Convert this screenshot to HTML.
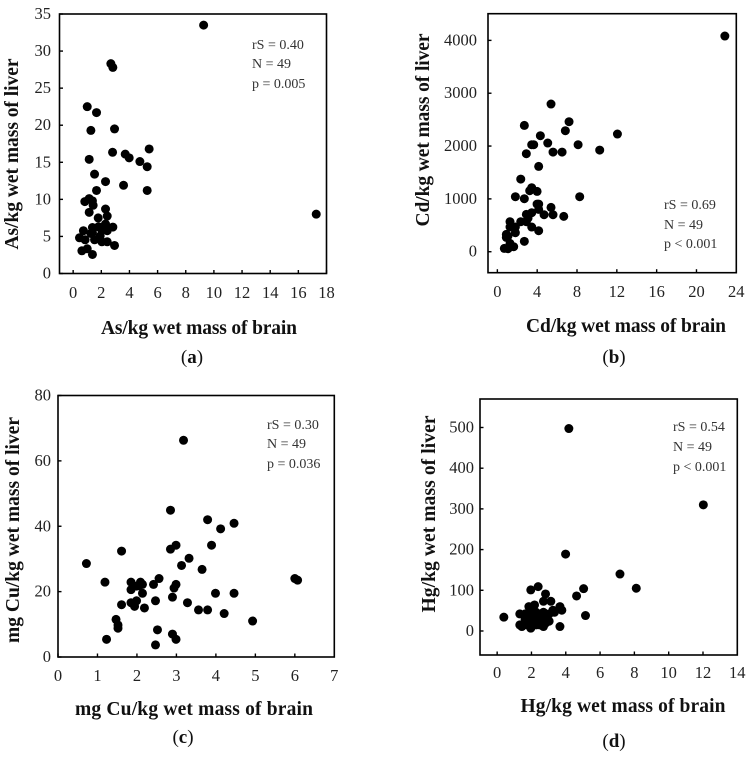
<!DOCTYPE html>
<html lang="en">
<head>
<meta charset="utf-8">
<title>Liver versus brain metal concentrations</title>
<style>
html,body{margin:0;padding:0;background:#fff;width:756px;height:758px;overflow:hidden}
svg{display:block}
text{font-family:"Liberation Serif",serif;fill:#1a1a1a}
.tick{font-size:16.5px;fill:#222}
.note{font-size:14px;fill:#333}
.title{font-size:19.5px;font-weight:bold;fill:#111}
.cap{font-size:19px;fill:#111}
.cap tspan{font-weight:bold}
</style>
</head>
<body>
<svg id="figure" width="756" height="758" viewBox="0 0 756 758" xmlns="http://www.w3.org/2000/svg">
  <g id="panel-a">
    <text class="note" x="252" y="49">rS = 0.40</text>
    <text class="note" x="252" y="68">N = 49</text>
    <text class="note" x="252" y="88">p = 0.005</text>
    <text class="title" x="199" y="334" text-anchor="middle" textLength="196">As/kg wet mass of brain</text>
    <text class="title" transform="translate(18,154) rotate(-90)" text-anchor="middle" textLength="191">As/kg wet mass of liver</text>
    <text class="cap" x="192" y="363" text-anchor="middle">(<tspan>a</tspan>)</text>
  </g>
  <g id="panel-b">
    <text class="note" x="664" y="209">rS = 0.69</text>
    <text class="note" x="664" y="229">N = 49</text>
    <text class="note" x="664" y="248">p &lt; 0.001</text>
    <text class="title" x="626" y="332" text-anchor="middle" textLength="200">Cd/kg wet mass of brain</text>
    <text class="title" transform="translate(429,130) rotate(-90)" text-anchor="middle" textLength="193">Cd/kg wet mass of liver</text>
    <text class="cap" x="614" y="363" text-anchor="middle">(<tspan>b</tspan>)</text>
  </g>
  <g id="panel-c">
    <text class="note" x="267" y="429">rS = 0.30</text>
    <text class="note" x="267" y="448">N = 49</text>
    <text class="note" x="267" y="468">p = 0.036</text>
    <text class="title" x="194" y="715" text-anchor="middle" textLength="238">mg Cu/kg wet mass of brain</text>
    <text class="title" transform="translate(19,530) rotate(-90)" text-anchor="middle" textLength="226">mg Cu/kg wet mass of liver</text>
    <text class="cap" x="183" y="743" text-anchor="middle">(<tspan>c</tspan>)</text>
  </g>
  <g id="panel-d">
    <text class="note" x="673" y="431">rS = 0.54</text>
    <text class="note" x="673" y="451">N = 49</text>
    <text class="note" x="673" y="471">p &lt; 0.001</text>
    <text class="title" x="623" y="712" text-anchor="middle" textLength="205">Hg/kg wet mass of brain</text>
    <text class="title" transform="translate(435,514) rotate(-90)" text-anchor="middle" textLength="197">Hg/kg wet mass of liver</text>
    <text class="cap" x="614" y="747" text-anchor="middle">(<tspan>d</tspan>)</text>
  </g>
</svg>
<script>
const asBrain = [9.27,2.68,2.82,1.0,1.66,1.26,2.94,5.4,2.8,3.7,3.98,4.74,5.26,1.14,1.52,2.3,3.58,5.26,1.66,1.14,0.83,1.37,1.42,1.14,2.3,2.42,1.78,17.27,2.3,0.73,1.37,1.92,2.42,2.82,0.45,0.85,1.37,1.52,1.92,2.04,2.42,2.94,0.62,1.0,1.37,2.16,1.26,1.8,2.04];
const asLiver = [33.5,28.3,27.8,22.5,21.7,19.3,19.5,16.8,16.35,16.1,15.6,15.1,14.4,15.4,13.4,12.4,11.9,11.2,11.2,10.1,9.7,9.8,9.2,8.25,8.7,7.75,7.5,8.0,6.67,5.77,6.2,6.2,5.77,6.26,4.82,4.55,5.54,4.55,5.05,4.28,4.28,3.78,3.06,3.33,2.57,6.3,5.4,6.3,5.85];
const asXTicks = [0,2,4,6,8,10,12,14,16,18];
const asYTicks = [0,5,10,15,20,25,30,35];

const cdBrain = [22.85,5.39,7.2,2.71,6.83,12.06,4.32,5.06,3.45,3.65,8.11,10.28,2.91,5.59,6.5,4.15,2.35,3.45,3.25,3.99,1.81,2.71,8.27,3.99,4.15,4.15,5.39,2.91,3.45,4.69,5.59,6.67,1.27,2.35,3.08,2.91,1.81,1.27,3.45,4.15,0.9,1.07,2.71,1.27,0.7,1.07,1.64,1.81,0.9];
const cdLiver = [4082,2795,2461,2391,2290,2227,2196,2057,2025,2025,2025,1924,1855,1886,1886,1615,1375,1211,1155,1142,1041,1003,1041,902,902,801,839,707,738,700,700,669,568,568,637,568,467,467,467,397,328,297,196,158,63,57,95,360,271];
const cdXTicks = [0,4,8,12,16,20,24];
const cdYTicks = [0,1000,2000,3000,4000];

const cuBrain = [3.18,2.85,3.79,4.12,4.46,2.99,2.85,3.89,1.61,3.32,3.13,0.72,3.65,1.19,1.85,2.09,2.14,1.85,1.99,2.14,2.42,2.56,2.99,2.94,2.9,3.99,4.46,2.47,1.99,1.85,1.61,1.94,2.19,3.28,3.56,3.79,4.21,4.93,1.47,1.52,1.52,1.23,2.52,2.9,2.99,2.47,6.0,6.07,2.05];
const cuLiver = [66.3,44.9,42.0,39.2,40.9,34.2,33.0,34.2,32.4,30.2,28.0,28.6,26.8,22.9,22.9,22.9,22.2,20.6,21.7,19.5,22.2,24.0,22.2,21.1,18.3,19.5,19.5,17.2,17.2,16.6,16.0,15.5,15.0,16.6,14.4,14.4,13.3,11.0,11.5,9.8,8.8,5.4,8.3,7.0,5.4,3.7,24.0,23.5,21.8];
const cuXTicks = [0,1,2,3,4,5,6,7];
const cuYTicks = [0,20,40,60,80];

const hgBrain = [4.18,12.02,3.99,7.16,8.11,5.04,2.39,1.96,2.82,4.63,2.7,3.13,2.18,3.66,3.77,5.15,3.25,0.39,1.85,1.96,1.32,1.63,1.75,2.27,2.7,3.03,2.39,2.7,3.03,1.85,1.32,1.44,1.96,2.7,3.66,2.27,1.75,2.82,2.49,2.6,2.18,1.63,1.96,2.06,2.92,2.18,3.34,1.54,2.49];
const hgLiver = [497.5,310,189,140,105,104,109,101,91,86,73,73,64,60,51,38,51,34,60,54,42,42,33,46,46,42,33,33,24,24,15,11,7,11,11,15,15,19,24,42,28,28,42,54,37,42,46,15,15];
const hgXTicks = [0,2,4,6,8,10,12,14];
const hgYTicks = [0,100,200,300,400,500];

const SVG_NS = 'http://www.w3.org/2000/svg';

function make(parent, tag, attrs) {
  const el = document.createElementNS(SVG_NS, tag);
  for (const k in attrs) el.setAttribute(k, attrs[k]);
  parent.appendChild(el);
  return el;
}

function drawPanel(key, box, xDomain, yDomain, xs, ys, xTicks, yTicks, yLabelRight, xLabelBase) {
  const parent = document.getElementById('panel-' + key);
  const xPos = function (v) { return box.left + (v - xDomain[0]) / (xDomain[1] - xDomain[0]) * (box.right - box.left); };
  const yPos = function (v) { return box.bottom - (v - yDomain[0]) / (yDomain[1] - yDomain[0]) * (box.bottom - box.top); };

  xTicks.forEach(function (t) {
    const mark = make(parent, 'line', { x1: xPos(t), x2: xPos(t), y1: box.bottom, y2: box.bottom - 3.5, stroke: '#000', 'stroke-width': 1.4 });
    
    
    const label = make(parent, 'text', { class: 'tick', x: xPos(t), y: xLabelBase, 'text-anchor': 'middle' });
    label.textContent = String(t);
    
    
  });

  yTicks.forEach(function (t) {
    const mark = make(parent, 'line', { x1: box.left, x2: box.left + 3.5, y1: yPos(t), y2: yPos(t), stroke: '#000', 'stroke-width': 1.4 });
    
    
    const label = make(parent, 'text', { class: 'tick', x: yLabelRight, y: yPos(t) + 5, 'text-anchor': 'end' });
    label.textContent = String(t);
    
    
  });

  const frame = make(parent, 'rect', { x: box.left, y: box.top, width: box.right - box.left, height: box.bottom - box.top, fill: 'none', stroke: '#000', 'stroke-width': 1.6 });
  
  

  xs.forEach(function (x, i) {
    const dot = make(parent, 'circle', { cx: xPos(x), cy: yPos(ys[i]), r: 4.5, fill: '#000' });
    
    
  });
}

drawPanel('a', { left: 59.5, right: 326.5, top: 14, bottom: 273.5 }, [-0.97, 18], [0, 35], asBrain, asLiver, asXTicks, asYTicks, 51, 298);
drawPanel('b', { left: 488, right: 736.3, top: 13.7, bottom: 272.7 }, [-0.94, 24], [-397, 4505], cdBrain, cdLiver, cdXTicks, cdYTicks, 477, 297);
drawPanel('c', { left: 58, right: 334.3, top: 395.5, bottom: 657 }, [0, 7], [0, 80], cuBrain, cuLiver, cuXTicks, cuYTicks, 51, 681);
drawPanel('d', { left: 480, right: 737.3, top: 399, bottom: 655 }, [-1, 14], [-59, 570], hgBrain, hgLiver, hgXTicks, hgYTicks, 474, 678);
</script>
</body>
</html>
